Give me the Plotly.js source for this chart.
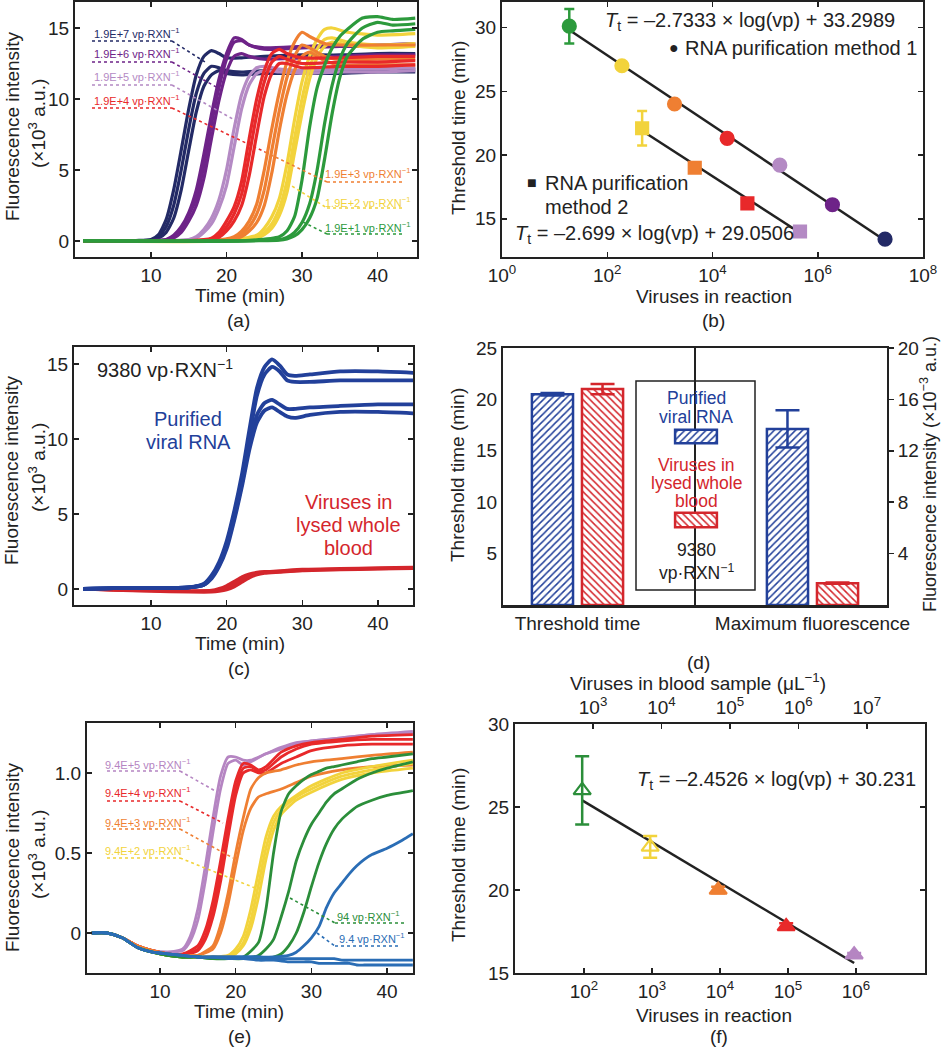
<!DOCTYPE html>
<html><head><meta charset="utf-8">
<script src="https://cdn.plot.ly/plotly-3.0.1.min.js"></script>
<style>html,body{margin:0;padding:0;background:#fff}#chart{width:942px;height:1050px}</style>
</head><body><div id="chart"></div>
<script>
const W = 942, H = 1050;
const FONT = 'Liberation Sans, Arial, Helvetica, sans-serif';

// ---------------- Panel (a): amplification curves, purification method 1 ----------------
const aNavyT = [1, 8, 10, 11, 12, 13, 14, 15, 16, 17, 18, 19, 20, 22, 25, 30, 35, 40, 45];
const aNavy1 = [0, 0.03, 0.1, 0.45, 1.5, 3.6, 6.4, 9.3, 11.7, 13.0, 13.4, 13.2, 12.9, 12.9, 13.0, 13.1, 13.1, 13.2, 13.2];
const aNavy2 = [0, 0.02, 0.07, 0.3, 1.0, 2.5, 5.0, 7.9, 10.4, 11.8, 12.3, 12.2, 12.0, 11.9, 12.0, 12.0, 12.0, 12.1, 12.1];
const aNavy3 = [0, 0.02, 0.05, 0.2, 0.6, 1.6, 3.6, 6.4, 9.1, 10.9, 11.7, 12.0, 11.8, 11.7, 11.8, 11.8, 11.8, 11.9, 11.9];
const aPurpT = [1, 10, 12, 13, 14, 15, 16, 17, 18, 19, 20, 21, 22, 23, 25, 30, 35, 40, 45];
const aPurp1 = [0, 0.03, 0.1, 0.4, 1.0, 2.0, 3.6, 6.1, 8.9, 11.4, 13.2, 14.3, 14.2, 13.8, 13.6, 13.7, 13.8, 13.8, 13.9];
const aPurp2 = [0, 0.02, 0.08, 0.3, 0.8, 1.8, 3.0, 5.3, 8.2, 10.8, 12.8, 14.0, 14.1, 13.8, 13.5, 13.6, 13.7, 13.7, 13.8];
const aPurp3 = [0, 0.02, 0.06, 0.2, 0.6, 1.4, 2.5, 4.4, 7.2, 9.9, 11.9, 13.0, 13.2, 13.0, 12.8, 12.9, 13.0, 13.1, 13.1];
const aLilT = [1, 13, 15, 16, 17, 18, 19, 20, 21, 22, 23, 24, 25, 27, 30, 35, 40, 45];
const aLil1 = [0, 0.03, 0.1, 0.3, 0.8, 1.6, 2.9, 5.0, 7.9, 10.3, 11.6, 12.2, 12.3, 12.1, 12.0, 12.1, 12.1, 12.2];
const aLil2 = [0, 0.02, 0.08, 0.2, 0.6, 1.2, 2.3, 3.9, 6.6, 9.3, 11.0, 11.8, 12.0, 11.9, 11.8, 11.9, 11.9, 12.0];
const aRedT = [1, 15, 18, 19, 20, 21, 22, 23, 24, 25, 26, 27, 28, 30, 35, 40, 45];
const aRed1 = [0, 0.02, 0.2, 0.6, 1.4, 2.4, 4.2, 7.2, 10.0, 12.0, 13.2, 13.5, 13.2, 12.9, 12.9, 13.0, 13.0];
const aRed2 = [0, 0.02, 0.12, 0.4, 1.0, 1.9, 3.3, 6.0, 8.9, 11.2, 12.6, 13.0, 12.8, 12.5, 12.6, 12.6, 12.7];
const aRed3 = [0, 0.01, 0.08, 0.25, 0.7, 1.4, 2.5, 4.6, 7.5, 10.2, 11.8, 12.5, 12.5, 12.2, 12.3, 12.3, 12.4];
const aOraT = [1, 18, 21, 22, 23, 24, 25, 26, 27, 28, 29, 30, 31, 33, 35, 40, 45];
const aOra1 = [0, 0.02, 0.3, 0.7, 1.4, 2.6, 5.0, 7.9, 10.5, 12.6, 14.0, 14.7, 14.4, 13.9, 13.8, 13.8, 13.8];
const aOra2 = [0, 0.01, 0.2, 0.5, 1.0, 1.9, 3.6, 6.4, 9.2, 11.5, 13.0, 13.8, 13.6, 13.0, 12.8, 12.8, 12.8];
const aOra3 = [0, 0.01, 0.12, 0.3, 0.7, 1.3, 2.5, 4.8, 7.8, 10.3, 12.0, 13.0, 13.3, 12.7, 12.4, 12.4, 12.4];
const aYelT = [1, 20, 24, 25, 26, 27, 28, 29, 30, 31, 32, 33, 34, 36, 40, 45];
const aYel1 = [0, 0.02, 0.4, 0.9, 1.7, 3.0, 5.4, 8.5, 11.2, 13.0, 14.2, 14.9, 15.0, 14.7, 14.5, 14.6];
const aYel2 = [0, 0.01, 0.25, 0.6, 1.2, 2.3, 4.2, 7.2, 10.0, 12.2, 13.5, 14.2, 14.3, 14.0, 13.8, 13.9];
const aYel3 = [0, 0.01, 0.2, 0.45, 0.9, 1.8, 3.4, 6.2, 9.0, 11.4, 12.9, 13.7, 14.0, 13.8, 13.6, 13.7];
const aGrnT = [1, 22, 27, 28, 29, 30, 31, 32, 33, 34, 35, 36, 38, 40, 42, 45];
const aGrn1 = [0, 0.01, 0.3, 0.7, 1.7, 4.3, 8.0, 10.8, 12.4, 13.6, 14.4, 14.9, 15.7, 15.8, 15.6, 15.7];
const aGrn2 = [0, 0.01, 0.1, 0.25, 0.6, 1.3, 2.6, 5.0, 8.3, 11.0, 12.8, 13.9, 15.0, 15.4, 15.2, 15.3];
const aGrn3 = [0, 0.01, 0.06, 0.15, 0.35, 0.8, 1.6, 3.0, 5.8, 9.0, 11.5, 13.0, 14.2, 14.7, 14.8, 14.9];
const aLabels = ['1.9E+7', '1.9E+6', '1.9E+5', '1.9E+4', '1.9E+3', '1.9E+2', '1.9E+1'];

// ---------------- Panel (b): threshold time vs viruses ----------------
const bM1Vp = [19, 190, 1900, 19000, 190000, 1900000, 19000000];
const bM1Tt = [30.1, 27.0, 24.0, 21.3, 19.2, 16.1, 13.4];
const bM1Err = [1.35, 0, 0, 0, 0, 0, 0];
const bM2Vp = [460, 4600, 46000, 460000];
const bM2Tt = [22.1, 19.0, 16.2, 14.0];
const bM2Err = [1.35, 0, 0, 0];
const bFit1Vp = [19, 19000000];
const bFit1Tt = [29.8, 13.3];
const bFit2Vp = [460, 460000];
const bFit2Tt = [21.9, 13.9];

// ---------------- Panel (c): purified RNA vs lysed blood ----------------
const cBlueT = [1, 5, 10, 15, 17, 18, 19, 20, 21, 22, 23, 24, 25, 26, 27, 28, 29, 31, 35, 40, 45];
const cBlue1 = [0, 0.05, 0.05, 0.1, 0.35, 0.9, 1.8, 3.2, 5.2, 7.6, 10.6, 13.4, 14.8, 15.3, 14.9, 14.3, 14.2, 14.3, 14.5, 14.5, 14.4];
const cBlue2 = [0, 0.05, 0.05, 0.1, 0.3, 0.8, 1.6, 3.0, 5.0, 7.3, 10.2, 12.9, 14.3, 14.8, 14.5, 13.9, 13.8, 13.8, 13.9, 13.9, 13.9];
const cBlue3 = [0, 0.05, 0.05, 0.1, 0.3, 0.8, 1.6, 2.9, 4.8, 7.0, 9.6, 11.6, 12.4, 12.6, 12.3, 12.0, 12.0, 12.1, 12.2, 12.3, 12.3];
const cBlue4 = [0, 0.05, 0.05, 0.1, 0.28, 0.7, 1.5, 2.7, 4.6, 6.8, 9.3, 11.1, 11.9, 12.1, 11.8, 11.5, 11.4, 11.6, 11.8, 11.8, 11.7];
const cRedT = [1, 5, 10, 15, 18, 19, 20, 21, 22, 23, 24, 25, 27, 30, 35, 40, 45];
const cRed1 = [0, -0.05, -0.1, -0.12, -0.1, 0.02, 0.22, 0.5, 0.8, 1.0, 1.1, 1.15, 1.2, 1.3, 1.35, 1.4, 1.45];
const cRed2 = [0, -0.08, -0.15, -0.2, -0.2, -0.15, -0.05, 0.15, 0.45, 0.75, 0.95, 1.05, 1.12, 1.22, 1.28, 1.33, 1.38];
const cRed3 = [0, -0.06, -0.12, -0.16, -0.15, -0.06, 0.08, 0.32, 0.62, 0.88, 1.02, 1.1, 1.16, 1.26, 1.31, 1.36, 1.41];

// ---------------- Panel (d): bar comparison ----------------
const dCats = ['Threshold time', 'Maximum fluorescence'];
const dPurified = [20.5, 13.7];
const dPurifiedErr = [0.12, 1.45];
const dBlood = [21.0, 1.7];
const dBloodErr = [0.5, 0.05];
const dSwatch = [1];

// ---------------- Panel (e): amplification from lysed blood ----------------
const ePurpT = [1, 3, 5, 7, 9, 11, 13, 14, 15, 16, 17, 18, 19, 20, 21, 22, 24, 26, 28, 30, 34, 38, 43.4];
const ePurp1 = [0, 0, -0.03, -0.08, -0.11, -0.12, -0.1, -0.02, 0.15, 0.42, 0.72, 0.98, 1.1, 1.1, 1.08, 1.08, 1.12, 1.16, 1.19, 1.2, 1.22, 1.24, 1.26];
const ePurp2 = [0, 0, -0.03, -0.08, -0.11, -0.12, -0.11, -0.05, 0.08, 0.33, 0.63, 0.9, 1.06, 1.08, 1.05, 1.07, 1.12, 1.15, 1.18, 1.2, 1.22, 1.24, 1.25];
const eRedT = [1, 3, 5, 7, 9, 11, 13, 15, 16, 17, 18, 19, 20, 21, 22, 23, 24, 26, 28, 30, 34, 38, 43.4];
const eRed1 = [0, 0, -0.03, -0.08, -0.11, -0.13, -0.13, -0.08, 0.02, 0.2, 0.45, 0.72, 0.95, 1.06, 1.05, 1.02, 1.04, 1.13, 1.17, 1.19, 1.21, 1.23, 1.24];
const eRed2 = [0, 0, -0.03, -0.08, -0.11, -0.13, -0.14, -0.1, -0.02, 0.14, 0.38, 0.65, 0.9, 1.03, 1.04, 1.01, 1.02, 1.1, 1.15, 1.18, 1.2, 1.21, 1.21];
const eRed3 = [0, 0, -0.03, -0.08, -0.11, -0.13, -0.14, -0.11, -0.04, 0.1, 0.32, 0.6, 0.86, 1.0, 1.02, 1.0, 1.0, 1.06, 1.1, 1.14, 1.17, 1.18, 1.18];
const eOraT = [1, 3, 5, 7, 9, 11, 13, 15, 17, 18, 19, 20, 21, 22, 23, 24, 26, 28, 30, 34, 38, 43.4];
const eOra1 = [0, 0, -0.03, -0.08, -0.11, -0.13, -0.14, -0.14, -0.08, 0.05, 0.25, 0.5, 0.72, 0.9, 0.97, 1.0, 1.02, 1.05, 1.07, 1.09, 1.11, 1.13];
const eOra2 = [0, 0, -0.03, -0.08, -0.11, -0.13, -0.14, -0.14, -0.1, 0.0, 0.18, 0.42, 0.64, 0.78, 0.85, 0.87, 0.9, 0.94, 0.98, 1.02, 1.04, 1.05];
const eYelT = [1, 3, 5, 7, 9, 11, 13, 15, 17, 19, 20, 21, 22, 23, 24, 25, 26, 28, 30, 34, 38, 43.4];
const eYel1 = [0, 0, -0.03, -0.09, -0.12, -0.14, -0.15, -0.15, -0.15, -0.14, -0.1, -0.02, 0.15, 0.38, 0.6, 0.73, 0.79, 0.86, 0.92, 1.0, 1.04, 1.08];
const eYel2 = [0, 0, -0.03, -0.09, -0.12, -0.14, -0.15, -0.15, -0.15, -0.15, -0.12, -0.06, 0.08, 0.3, 0.53, 0.69, 0.77, 0.85, 0.9, 0.98, 1.02, 1.06];
const eYel3 = [0, 0, -0.03, -0.09, -0.12, -0.14, -0.15, -0.15, -0.15, -0.15, -0.13, -0.08, 0.03, 0.22, 0.46, 0.64, 0.74, 0.83, 0.88, 0.96, 1.0, 1.03];
const eGrnT = [1, 3, 5, 7, 9, 11, 13, 15, 17, 19, 21, 23, 24, 25, 26, 27, 28, 29, 30, 31, 32, 33, 34, 36, 38, 40, 43.4];
const eGrn1 = [0, 0, -0.03, -0.09, -0.12, -0.14, -0.15, -0.15, -0.16, -0.16, -0.15, -0.06, 0.15, 0.5, 0.76, 0.87, 0.92, 0.96, 0.99, 1.01, 1.03, 1.04, 1.05, 1.07, 1.09, 1.1, 1.12];
const eGrn2 = [0, 0, -0.03, -0.09, -0.12, -0.14, -0.15, -0.15, -0.16, -0.16, -0.16, -0.14, -0.1, -0.04, 0.1, 0.26, 0.45, 0.58, 0.68, 0.75, 0.82, 0.87, 0.9, 0.96, 1.0, 1.03, 1.07];
const eGrn3 = [0, 0, -0.03, -0.09, -0.12, -0.14, -0.15, -0.15, -0.16, -0.16, -0.16, -0.16, -0.16, -0.15, -0.13, -0.08, 0.0, 0.13, 0.29, 0.44, 0.56, 0.65, 0.71, 0.79, 0.83, 0.86, 0.89];
const eBluT = [1, 3, 5, 7, 9, 11, 13, 15, 17, 19, 21, 23, 25, 27, 28, 29, 30, 31, 32, 33, 34, 35, 36, 37, 38, 40, 42, 43.4];
const eBlu1 = [0, 0, -0.03, -0.09, -0.12, -0.13, -0.14, -0.15, -0.15, -0.15, -0.15, -0.15, -0.15, -0.14, -0.12, -0.08, -0.03, 0.04, 0.16, 0.25, 0.31, 0.37, 0.42, 0.46, 0.49, 0.53, 0.58, 0.62];
const eBlu2 = [0, 0, -0.03, -0.09, -0.12, -0.13, -0.14, -0.15, -0.15, -0.15, -0.15, -0.15, -0.16, -0.16, -0.16, -0.16, -0.16, -0.16, -0.16, -0.16, -0.17, -0.17, -0.17, -0.17, -0.17, -0.17, -0.17, -0.17];
const eBlu3 = [0, 0, -0.03, -0.09, -0.12, -0.13, -0.14, -0.15, -0.15, -0.16, -0.16, -0.17, -0.17, -0.18, -0.18, -0.18, -0.18, -0.19, -0.19, -0.19, -0.19, -0.19, -0.2, -0.2, -0.2, -0.2, -0.2, -0.2];
const eLabels = ['9.4E+5', '9.4E+4', '9.4E+3', '9.4E+2', '94', '9.4'];

// ---------------- Panel (f): threshold time, lysed blood ----------------
const fVp = [94, 940, 9400, 94000, 940000];
const fTt = [26.0, 22.6, 20.0, 17.8, 16.1];
const fErr = [2.05, 0.65, 0.2, 0.2, 0.1];
const fFitVp = [94, 940000];
const fFitTt = [25.4, 15.6];

// ---------------- colours ----------------
const C = {navy:'#232a66', purple:'#6e2388', lilac:'#b48ac4', red:'#e8292a', orange:'#ef7f32',
  yellow:'#f2d33c', green:'#2c9a3c', blueC:'#22409a', redC:'#d4262c', blueE:'#2a6db5',
  greenE:'#2b8e3a', lilacE:'#b585c2'};

const traces = [];
function addLine(xa, ya, t, v, color, width) {
  traces.push({type:'scatter', mode:'lines', x:t, y:v, xaxis:xa, yaxis:ya,
    line:{color:color, width:width, shape:'spline', smoothing:0.6}, hoverinfo:'skip', showlegend:false});
}

// (a)
[[aNavyT,[aNavy1,aNavy2,aNavy3],C.navy],[aPurpT,[aPurp1,aPurp2,aPurp3],C.purple],
 [aLilT,[aLil1,aLil2],C.lilac],[aYelT,[aYel1,aYel2,aYel3],C.yellow],
 [aOraT,[aOra1,aOra2,aOra3],C.orange],[aRedT,[aRed1,aRed2,aRed3],C.red],
 [aGrnT,[aGrn1,aGrn2,aGrn3],C.green]].forEach(g => g[1].forEach(r => addLine('x','y',g[0],r,g[2],3.2)));

// (b)
traces.push({type:'scatter', mode:'lines', x:bFit1Vp, y:bFit1Tt, xaxis:'x2', yaxis:'y2', line:{color:'#222', width:2.5}, showlegend:false});
traces.push({type:'scatter', mode:'lines', x:bFit2Vp, y:bFit2Tt, xaxis:'x2', yaxis:'y2', line:{color:'#222', width:2.5}, showlegend:false});
const bM1Colors = [C.green, C.yellow, C.orange, C.red, C.lilac, C.purple, C.navy];
const bM2Colors = [C.yellow, C.orange, C.red, C.lilac];
function addPoint(xa, ya, x, y, err, color, symbol, size, capw) {
  traces.push({type:'scatter', mode:'markers', x:[x], y:[y], xaxis:xa, yaxis:ya, showlegend:false,
    marker:{color:color, symbol:symbol, size:size, line:{color:color, width:2.2}},
    error_y:{type:'data', array:[err], visible: err > 0, color:color, thickness:2.5, width:capw}});
}
bM1Vp.forEach((v,i) => addPoint('x2','y2', v, bM1Tt[i], bM1Err[i], bM1Colors[i], 'circle', 13, 5));
bM2Vp.forEach((v,i) => addPoint('x2','y2', v, bM2Tt[i], bM2Err[i], bM2Colors[i], 'square', 12, 5));

// (c)
[cRed1, cRed2, cRed3].forEach(r => addLine('x3','y3', cRedT, r, C.redC, 3.2));
[cBlue1, cBlue2, cBlue3, cBlue4].forEach(r => addLine('x3','y3', cBlueT, r, C.blueC, 3.8));

// (d)
function addBar(ya, idx, val, err, color, shape, offset) {
  traces.push({type:'bar', x:[dCats[idx]], y:[val], xaxis:'x4', yaxis:ya, offset:offset, width:0.175, showlegend:false,
    marker:{color:'white', line:{color:color, width:2.5}, pattern:{shape:shape, fgcolor:color, bgcolor:'white', size:5, solidity:0.3}},
    error_y:{type:'data', array:[err], color:color, thickness:2.5, width:12}});
}
addBar('y4', 0, dPurified[0], dPurifiedErr[0], C.blueC, '/', -0.194);
addBar('y4', 0, dBlood[0], dBloodErr[0], C.redC, '\\', 0.019);
addBar('y5', 1, dPurified[1], dPurifiedErr[1], C.blueC, '/', -0.194);
addBar('y5', 1, dBlood[1], dBloodErr[1], C.redC, '\\', 0.019);
traces.push({type:'bar', orientation:'h', x:dSwatch, y:[0], width:1, xaxis:'x8', yaxis:'y8', showlegend:false,
  marker:{color:'white', line:{color:C.blueC, width:2.5}, pattern:{shape:'/', fgcolor:C.blueC, bgcolor:'white', size:5, solidity:0.3}}});
traces.push({type:'bar', orientation:'h', x:dSwatch, y:[0], width:1, xaxis:'x9', yaxis:'y9', showlegend:false,
  marker:{color:'white', line:{color:C.redC, width:2.5}, pattern:{shape:'\\', fgcolor:C.redC, bgcolor:'white', size:5, solidity:0.3}}});

// (e)
[[ePurpT,[ePurp1,ePurp2],C.lilacE],[eRedT,[eRed1,eRed2,eRed3],C.red],[eOraT,[eOra1,eOra2],C.orange],
 [eYelT,[eYel1,eYel2,eYel3],C.yellow],[eGrnT,[eGrn1,eGrn2,eGrn3],C.greenE],[eBluT,[eBlu1,eBlu2,eBlu3],C.blueE]]
 .forEach(g => g[1].forEach(r => addLine('x5','y6',g[0],r,g[2],2.8)));

// (f)
traces.push({type:'scatter', mode:'lines', x:fFitVp, y:fFitTt, xaxis:'x6', yaxis:'y7', line:{color:'#222', width:2.5}, showlegend:false});
const fColors = [C.greenE, C.yellow, C.orange, C.red, C.lilacE];
const fSymbols = ['triangle-up-open', 'triangle-up-open', 'triangle-up', 'triangle-up', 'triangle-up'];
fVp.forEach((v,i) => addPoint('x6','y7', v, fTt[i], fErr[i], fColors[i], fSymbols[i], 15, 7));
traces.push({type:'scatter', mode:'markers', x:[], y:[], xaxis:'x7', yaxis:'y7', showlegend:false});

// ---------------- layout helpers ----------------
const dx = (a,b) => [a/W, b/W];
const dy = (t,b) => [1-b/H, 1-t/H];
const axBase = {showline:true, linecolor:'#222', linewidth:2, ticks:'inside', ticklen:5, tickwidth:1.5,
  tickcolor:'#222', showgrid:false, zeroline:false, mirror:'ticks', tickfont:{size:19, color:'#222', family:FONT}, fixedrange:true};
const ax = o => Object.assign({}, axBase, o);
const pow10 = n => '10<sup>' + n + '</sup>';
const hidden = o => Object.assign({visible:false, fixedrange:true}, o);

function A(text, x, y, o) {
  o = o || {};
  return {text:text, x:x/W, y:1-y/H, xref:'paper', yref:'paper', showarrow:false,
    xanchor:o.xa || 'center', yanchor:'middle', textangle:o.rot || 0,
    font:{family:FONT, size:o.size || 19, color:o.color || '#222'}};
}
function L(x0,y0,x1,y1,color) {
  return {type:'line', xref:'paper', yref:'paper', x0:x0/W, y0:1-y0/H, x1:x1/W, y1:1-y1/H,
    line:{color:color, width:1.6, dash:'dot'}};
}
const vp = '&#160;vp·RXN<sup>−1</sup>';

const annotations = [
  // (a)
  A('Fluorescence intensity', 12, 126, {rot:-90}), A('(×10<sup>3</sup> a.u.)', 37, 124, {rot:-90}),
  A('Time (min)', 240, 295), A('(a)', 238, 320),
  A(aLabels[0]+vp, 92, 33, {xa:'left', size:11, color:C.navy}),
  A(aLabels[1]+vp, 92, 53, {xa:'left', size:11, color:C.purple}),
  A(aLabels[2]+vp, 92, 76, {xa:'left', size:11, color:C.lilac}),
  A(aLabels[3]+vp, 92, 100, {xa:'left', size:11, color:C.red}),
  A(aLabels[4]+vp, 323, 173, {xa:'left', size:11, color:C.orange}),
  A(aLabels[5]+vp, 323, 202, {xa:'left', size:11, color:C.yellow}),
  A(aLabels[6]+vp, 323, 227, {xa:'left', size:11, color:C.green}),
  // (b)
  A('Threshold time (min)', 458, 128, {rot:-90}),
  A('Viruses in reaction', 714, 296), A('(b)', 713, 320),
  A('<i>T</i><sub>t</sub> = –2.7333 × log(vp) + 33.2989', 603, 22, {xa:'left', size:20}),
  A('●', 674, 48, {size:16}), A('RNA purification method 1', 683, 48, {xa:'left', size:20}),
  A('■', 532, 183, {size:16}), A('RNA purification', 543, 183, {xa:'left', size:20}),
  A('method 2', 543, 207, {xa:'left', size:20}),
  A('<i>T</i><sub>t</sub> = –2.699 × log(vp) + 29.0506', 513, 235, {xa:'left', size:20}),
  // (c)
  A('Fluorescence intensity', 12, 470, {rot:-90}), A('(×10<sup>3</sup> a.u.)', 37, 468, {rot:-90}),
  A('Time (min)', 240, 643), A('(c)', 239, 668),
  A('9380' + vp, 95, 368, {xa:'left', size:20}),
  A('Purified', 188, 419, {size:20, color:C.blueC}), A('viral RNA', 188, 442, {size:20, color:C.blueC}),
  A('Viruses in', 348, 502, {size:20, color:C.redC}), A('lysed whole', 348, 525, {size:20, color:C.redC}),
  A('blood', 348, 548, {size:20, color:C.redC}),
  // (d)
  A('Threshold time (min)', 458, 475, {rot:-90}),
  A('Fluorescence intensity (×10<sup>−3</sup> a.u.)', 929, 474, {rot:-90, size:18}),
  A('(d)', 698, 662),
  A('Purified', 696, 398, {size:17.5, color:C.blueC}), A('viral RNA', 696, 417, {size:17.5, color:C.blueC}),
  A('Viruses in', 696, 465, {size:17.5, color:C.redC}), A('lysed whole', 696, 483, {size:17.5, color:C.redC}),
  A('blood', 696, 501, {size:17.5, color:C.redC}),
  A('9380', 696, 550, {size:17.5}), A('vp·RXN<sup>−1</sup>', 696, 572, {size:17.5}),
  // (e)
  A('Fluorescence intensity', 12, 857, {rot:-90}), A('(×10<sup>3</sup> a.u.)', 37, 855, {rot:-90}),
  A('Time (min)', 239, 1011), A('(e)', 239, 1036),
  A(eLabels[0]+vp, 103, 764, {xa:'left', size:11, color:C.lilacE}),
  A(eLabels[1]+vp, 103, 792, {xa:'left', size:11, color:C.red}),
  A(eLabels[2]+vp, 103, 822, {xa:'left', size:11, color:C.orange}),
  A(eLabels[3]+vp, 103, 850, {xa:'left', size:11, color:C.yellow}),
  A(eLabels[4]+vp, 335, 916, {xa:'left', size:11, color:C.greenE}),
  A(eLabels[5]+vp, 337, 938, {xa:'left', size:11, color:C.blueE}),
  // (f)
  A('Viruses in blood sample (μL<sup>−1</sup>)', 698, 682),
  A('Threshold time (min)', 458, 855, {rot:-90}),
  A('Viruses in reaction', 714, 1015), A('(f)', 719, 1036),
  A('<i>T</i><sub>t</sub> = –2.4526 × log(vp) + 30.231', 635, 780, {xa:'left', size:20})
];

const shapes = [
  // (a) leaders
  L(92,41,172,41,C.navy), L(172,41,205,62,C.navy),
  L(92,62,172,62,C.purple), L(172,62,218,88,C.purple),
  L(92,85,172,85,C.lilac), L(172,85,240,123,C.lilac),
  L(92,108,172,108,C.red), L(172,108,265,152,C.red),
  L(265,152,327,182,C.orange), L(327,182,402,182,C.orange),
  L(287,183,327,208,C.yellow), L(327,208,402,208,C.yellow),
  L(303,222,327,234,C.green), L(327,234,402,234,C.green),
  // (d) divider and legend box
  {type:'line', xref:'x4', yref:'y4', x0:0.5, x1:0.5, y0:0, y1:25, layer:'below', line:{color:'#222', width:2}},
  {type:'rect', xref:'paper', yref:'paper', x0:636/W, x1:755/W, y0:1-590/H, y1:1-381/H, layer:'below',
    fillcolor:'white', line:{color:'#222', width:1.5}},
  // (e) leaders
  L(107,771,180,771,C.lilacE), L(180,771,217,792,C.lilacE),
  L(107,801,180,801,C.red), L(180,801,223,823,C.red),
  L(107,829,180,829,C.orange), L(180,829,233,858,C.orange),
  L(107,858,180,858,C.yellow), L(180,858,255,888,C.yellow),
  L(290,898,335,923,C.greenE), L(335,923,407,923,C.greenE),
  L(317,933,335,946,C.blueE), L(335,946,398,946,C.blueE)
];

const layout = {
  width:W, height:H, margin:{l:0, r:0, t:0, b:0}, paper_bgcolor:'white', plot_bgcolor:'rgba(0,0,0,0)',
  showlegend:false, barmode:'overlay', font:{family:FONT, size:19, color:'#222'},
  xaxis: ax({domain:dx(75,417), range:[-0.07,45.23], tickvals:[10,20,30,40], anchor:'y'}),
  yaxis: ax({domain:dy(2,257), range:[-1.13,16.83], tickvals:[0,5,10,15], anchor:'x'}),
  xaxis2: ax({type:'log', domain:dx(502,923), range:[0,8], tickvals:[1,1e2,1e4,1e6,1e8],
    ticktext:[pow10(0),pow10(2),pow10(4),pow10(6),pow10(8)], anchor:'y2'}),
  yaxis2: ax({domain:dy(2,257), range:[12,32], tickvals:[15,20,25,30], anchor:'x2'}),
  xaxis3: ax({domain:dx(74,413), range:[-0.2,44.64], tickvals:[10,20,30,40], anchor:'y3'}),
  yaxis3: ax({domain:dy(347,605), range:[-1.07,16.13], tickvals:[0,5,10,15], anchor:'x3'}),
  xaxis4: ax({type:'category', domain:dx(503,887), range:[-0.317,1.317], anchor:'y4', ticks:'', mirror:true,
    linewidth:2.5, categoryorder:'array', categoryarray:dCats}),
  yaxis4: ax({domain:dy(348,605), range:[0,25], tickvals:[5,10,15,20,25], anchor:'x4', mirror:false, ticks:''}),
  yaxis5: ax({overlaying:'y4', side:'right', range:[0,20], tickvals:[4,8,12,16,20], anchor:'x4', mirror:false, ticks:'outside'}),
  xaxis5: ax({domain:dx(87,413), range:[0.36,43.42], tickvals:[10,20,30,40], anchor:'y6'}),
  yaxis6: ax({domain:dy(723,973), range:[-0.25,1.3125], tickvals:[0,0.5,1], ticktext:['0','0.5','1.0'], anchor:'x5'}),
  xaxis6: ax({type:'log', domain:dx(515,925), range:[0.985,7.015], tickvals:[1e2,1e3,1e4,1e5,1e6],
    ticktext:[pow10(2),pow10(3),pow10(4),pow10(5),pow10(6)], anchor:'y7', mirror:false}),
  yaxis7: ax({domain:dy(724,973), range:[15,30], tickvals:[15,20,25,30], anchor:'x6'}),
  xaxis7: ax({type:'log', overlaying:'x6', side:'top', range:[1.86,7.85], tickvals:[1e3,1e4,1e5,1e6,1e7],
    ticktext:[pow10(3),pow10(4),pow10(5),pow10(6),pow10(7)], anchor:'y7', mirror:false}),
  xaxis8: hidden({domain:dx(673,719), range:[-0.05,1.05], anchor:'y8'}),
  yaxis8: hidden({domain:dy(428,445), range:[-0.62,0.62], anchor:'x8'}),
  xaxis9: hidden({domain:dx(673,719), range:[-0.05,1.05], anchor:'y9'}),
  yaxis9: hidden({domain:dy(511,529), range:[-0.62,0.62], anchor:'x9'}),
  annotations: annotations,
  shapes: shapes
};

Plotly.newPlot('chart', traces, layout, {staticPlot:true, displayModeBar:false});
</script></body></html>
